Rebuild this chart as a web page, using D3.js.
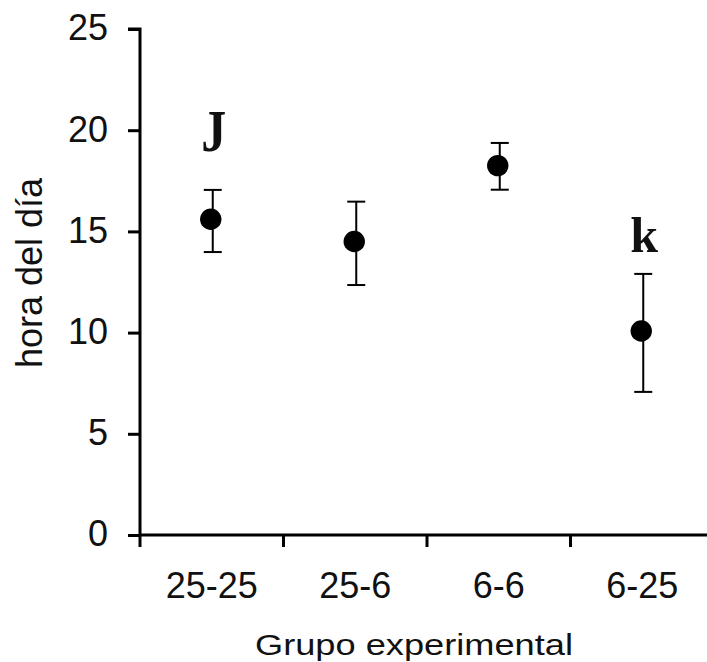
<!DOCTYPE html>
<html><head><meta charset="utf-8">
<script src="https://cdn.jsdelivr.net/npm/d3@7"></script>
<style>body{margin:0;background:#fff}</style>
</head><body>
<svg id="c" width="707" height="662"></svg>
<script>
const categories = ["25-25","25-6","6-6","6-25"];
const means = [15.6, 14.5, 18.25, 10.08];
const upper = [17.05, 16.47, 19.37, 12.9];
const lower = [13.98, 12.35, 17.06, 7.07];
const letters = [{cat:"25-25", text:"J", value:18.95},{cat:"6-25", text:"k", value:14.0}];
const yTicks = [0,5,10,15,20,25];

const svg = d3.select("#c");
const x = d3.scaleBand().domain(categories).range([140, 714]).padding(0);
const y = d3.scaleLinear().domain([0,25]).range([535, 29]);
const font = "'Liberation Sans', Arial, sans-serif";

// y axis
const ya = svg.append("g").attr("transform","translate(140,0)")
  .call(d3.axisLeft(y).tickValues(yTicks).tickSize(12).tickPadding(20).tickFormat(d3.format("d")));
ya.select(".domain").attr("stroke","#000").attr("stroke-width",3).attr("d","M-12,29H0V535");
ya.selectAll(".tick line").attr("stroke","#000").attr("stroke-width",3);
ya.selectAll(".tick text").attr("font-family",font).attr("font-size",36).attr("fill","#111").attr("dy","0.3em");

// x axis
const xa = svg.append("g").attr("transform","translate(0,535)")
  .call(d3.axisBottom(x).tickSize(0));
xa.select(".domain").attr("stroke","#000").attr("stroke-width",3).attr("d","M140,0H714");
xa.selectAll(".tick text").attr("font-family",font).attr("font-size",36).attr("fill","#111")
  .attr("y",63).attr("dy",0);
const bounds = categories.map(c=>x(c));
xa.selectAll(".bt").data(bounds).join("line").attr("class","bt")
  .attr("x1",d=>d).attr("x2",d=>d).attr("y1",-1).attr("y2",12)
  .attr("stroke","#000").attr("stroke-width",3);

// axis titles
svg.append("text").attr("x",414).attr("y",655).attr("text-anchor","middle")
  .attr("font-family",font).attr("font-size",30).attr("fill","#111")
  .attr("textLength",318).attr("lengthAdjust","spacingAndGlyphs").text("Grupo experimental");
svg.append("text").attr("transform","translate(42,273) rotate(-90)").attr("text-anchor","middle")
  .attr("font-family",font).attr("font-size",36).attr("fill","#111").text("hora del día");

const cx = c => x(c) + x.bandwidth()/2;
const g = svg.append("g");
categories.forEach((c,i)=>{
  const xc = cx(c) + 1;
  g.append("line").attr("x1",xc).attr("x2",xc).attr("y1",y(upper[i])).attr("y2",y(lower[i]))
    .attr("stroke","#000").attr("stroke-width",2);
  [upper[i],lower[i]].forEach(v=>{
    g.append("line").attr("x1",xc-9).attr("x2",xc+9).attr("y1",y(v)).attr("y2",y(v))
      .attr("stroke","#000").attr("stroke-width",2);
  });
  g.append("circle").attr("cx",xc-2).attr("cy",y(means[i])).attr("r",10.7).attr("fill","#000");
});

letters.forEach(l=>{
  const tx = cx(l.cat) + 2, ty = y(l.value);
  svg.append("text").attr("transform",`translate(${tx},${ty}) scale(1,${l.text==="J"?1.2:1})`)
    .attr("text-anchor","middle")
    .attr("font-family","'Liberation Serif','DejaVu Serif',serif").attr("font-weight","bold")
    .attr("font-size",50).attr("fill","#111").text(l.text);
});
</script>
</body></html>
